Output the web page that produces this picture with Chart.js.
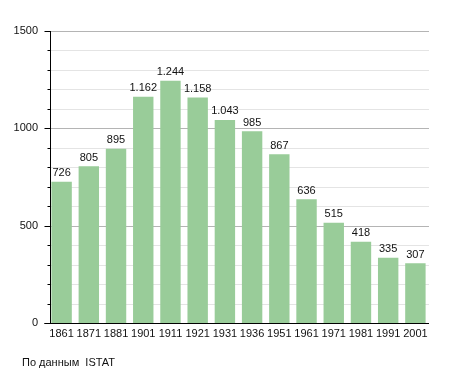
<!DOCTYPE html>
<html><head><meta charset="utf-8">
<script src="https://cdn.jsdelivr.net/npm/chart.js@4/dist/chart.umd.min.js"></script>
<style>
html,body{margin:0;padding:0;background:#fff;}
#wrap{position:relative;width:455px;height:373px;}
#note{position:absolute;left:22px;top:356px;font:11px "Liberation Sans",Arial,sans-serif;color:#111;white-space:pre;}
</style></head>
<body>
<div id="wrap"><canvas id="c" width="455" height="373"></canvas><div id="note">По данным  ISTAT</div></div>
<script>
const years = ['1861','1871','1881','1901','1911','1921','1931','1936','1951','1961','1971','1981','1991','2001'];
const population = [726,805,895,1162,1244,1158,1043,985,867,636,515,418,335,307];
const yTickLabels = [0,500,1000,1500];

const FONT = '"Liberation Sans", Arial, sans-serif';
function fmt(v){ return String(v).replace(/\B(?=(\d{3})+(?!\d))/g,'.'); }

const axesPlugin = {
  id:'axesPlugin',
  beforeDatasetsDraw(chart){
    const ctx=chart.ctx, y=chart.scales.y, a=chart.chartArea;
    const ax=50;
    ctx.save();
    for(let v=100; v<=1500; v+=100){
      const py=Math.round(y.getPixelForValue(v))+0.5;
      ctx.strokeStyle = (v%500===0)?'#b4b4b4':'#e4e4e4';
      ctx.lineWidth=1;
      ctx.beginPath(); ctx.moveTo(ax+1,py); ctx.lineTo(a.right,py); ctx.stroke();
    }
    ctx.restore();
  },
  afterDatasetsDraw(chart){
    const ctx=chart.ctx, y=chart.scales.y, a=chart.chartArea;
    const ax=50.5;
    ctx.save();
    ctx.strokeStyle='#000'; ctx.lineWidth=1;
    ctx.beginPath(); ctx.moveTo(ax,Math.round(y.getPixelForValue(1500))); ctx.lineTo(ax,Math.round(y.getPixelForValue(0))+1); ctx.stroke();
    for(let v=0; v<=1500; v+=100){
      const py=Math.round(y.getPixelForValue(v))+0.5;
      const len=(v%500===0)?6:3;
      ctx.beginPath(); ctx.moveTo(ax-len,py); ctx.lineTo(ax,py); ctx.stroke();
    }
    const by=Math.round(y.getPixelForValue(0))+0.5;
    ctx.beginPath(); ctx.moveTo(ax-6,by); ctx.lineTo(a.right,by); ctx.stroke();
    ctx.fillStyle='#111'; ctx.font='11px '+FONT; ctx.textAlign='center'; ctx.textBaseline='bottom';
    const meta=chart.getDatasetMeta(0);
    meta.data.forEach((bar,i)=>{ ctx.fillText(fmt(population[i]), bar.x, bar.y-3); });
    ctx.restore();
  }
};

new Chart(document.getElementById('c'),{
  type:'bar',
  data:{labels:years,datasets:[{data:population,backgroundColor:'#99cc99',borderWidth:0,barPercentage:0.75,categoryPercentage:1}]},
  options:{
    responsive:false,animation:false,
    layout:{padding:{top:31,right:26,bottom:29,left:0}},
    plugins:{legend:{display:false},tooltip:{enabled:false}},
    scales:{
      x:{grid:{display:false,drawTicks:false},border:{display:false},
         ticks:{color:'#111',font:{family:FONT,size:11},padding:4,maxRotation:0,autoSkip:false},
         afterFit(s){s.height=21;}},
      y:{min:0,max:1500,grid:{display:false,drawTicks:false},border:{display:false},
         ticks:{stepSize:100,color:'#111',font:{family:FONT,size:11},padding:10,
           callback:(v)=>yTickLabels.includes(v)?String(v):''},
         afterFit(s){s.width=48;}}
    }
  },
  plugins:[axesPlugin]
});
</script>
</body></html>
